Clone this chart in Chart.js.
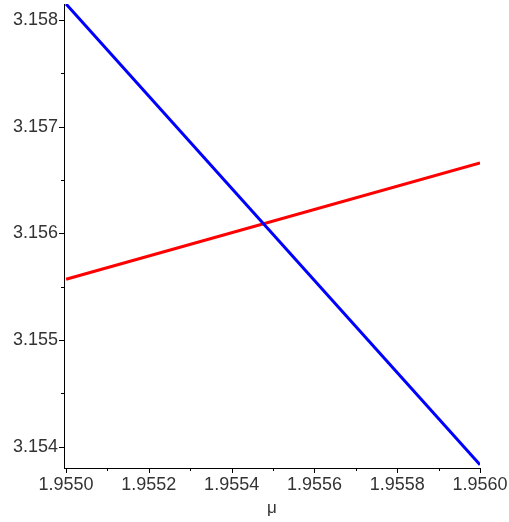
<!DOCTYPE html>
<html>
<head>
<meta charset="utf-8">
<script src="https://cdn.jsdelivr.net/npm/chart.js@4/dist/chart.umd.min.js"></script>
<style>
  html, body { margin: 0; padding: 0; background: #fff; }
  #wrap { width: 509px; height: 522px; }
</style>
</head>
<body>
<div id="wrap"><canvas id="c" width="509" height="522"></canvas></div>
<script>
// μ values at the ends of each curve
const mu = [1.9550, 1.9560];
// Curve values
const blueCurve = [3.15815, 3.15383];
const redCurve = [3.15557, 3.15666];
// Axis ranges and tick spacing
const xRange = [1.954995, 1.9560];
const yRange = [3.15380, 3.15815];
const xMajorStep = 0.0002, xMinorStep = 0.0001;
const yMajorStep = 0.001, yMinorStep = 0.0005;
const xTickStart = 1.9550, yTickStart = 3.1540;

function toPoints(xs, ys) { return xs.map((x, i) => ({ x: x, y: ys[i] })); }

function isMajor(v, start, step) {
  const k = (v - start) / step;
  return Math.abs(k - Math.round(k)) < 1e-6;
}

function makeTicks(start, end, step) {
  const out = [];
  const n = Math.round((end - start) / step);
  for (let i = 0; i <= n; i++) out.push({ value: +(start + i * step).toFixed(6) });
  return out;
}

// Outward tick marks: long for labelled values, short in between
const tickMarks = {
  id: 'tickMarks',
  afterDraw(chart) {
    const ctx = chart.ctx;
    const xs = chart.scales.x, ys = chart.scales.y;
    ctx.save();
    ctx.strokeStyle = '#000';
    ctx.lineWidth = 1;
    ctx.beginPath();
    xs.ticks.forEach(t => {
      const px = Math.round(xs.getPixelForValue(t.value)) + 0.5;
      const len = isMajor(t.value, xTickStart, xMajorStep) ? 5 : 3;
      ctx.moveTo(px, xs.top);
      ctx.lineTo(px, xs.top + len);
    });
    ys.ticks.forEach(t => {
      const py = Math.round(ys.getPixelForValue(t.value)) + 0.5;
      const len = isMajor(t.value, yTickStart, yMajorStep) ? 5 : 3;
      ctx.moveTo(ys.right, py);
      ctx.lineTo(ys.right - len, py);
    });
    ctx.stroke();
    ctx.restore();
  }
};

const tickFont = { family: 'Liberation Sans', size: 18 };

new Chart(document.getElementById('c'), {
  type: 'scatter',
  data: {
    datasets: [
      { data: toPoints(mu, blueCurve), showLine: true, borderColor: '#0000ff', borderWidth: 3, pointRadius: 0, fill: false },
      { data: toPoints(mu, redCurve), showLine: true, borderColor: '#ff0000', borderWidth: 3, pointRadius: 0, fill: false }
    ]
  },
  options: {
    responsive: false,
    animation: false,
    layout: { padding: { top: 4, right: 29, left: 0, bottom: 0 } },
    plugins: { legend: { display: false }, tooltip: { enabled: false } },
    scales: {
      x: {
        type: 'linear',
        min: xRange[0], max: xRange[1],
        afterBuildTicks: s => { s.ticks = makeTicks(xTickStart, xRange[1], xMinorStep); },
        afterFit: s => { s.height = 54; s.paddingLeft = 0; s.paddingRight = 0; },
        grid: { display: false, drawTicks: false },
        border: { display: true, color: '#000', width: 1 },
        ticks: {
          autoSkip: false, maxRotation: 0, padding: 6, color: '#333', font: tickFont,
          callback: v => isMajor(v, xTickStart, xMajorStep) ? v.toFixed(4) : ''
        },
        title: { display: true, text: 'μ', color: '#333', font: { family: 'Liberation Sans', size: 17 }, padding: { top: 0, bottom: 3 } }
      },
      y: {
        type: 'linear',
        min: yRange[0], max: yRange[1],
        afterBuildTicks: s => { s.ticks = makeTicks(yTickStart, 3.1580, yMinorStep); },
        afterFit: s => { s.width = 64; s.paddingTop = 0; s.paddingBottom = 0; },
        grid: { display: false, drawTicks: false },
        border: { display: true, color: '#000', width: 1 },
        ticks: {
          autoSkip: false, padding: 6, color: '#333', font: tickFont,
          callback: v => isMajor(v, yTickStart, yMajorStep) ? v.toFixed(3) : ''
        }
      }
    }
  },
  plugins: [tickMarks]
});
</script>
</body>
</html>
